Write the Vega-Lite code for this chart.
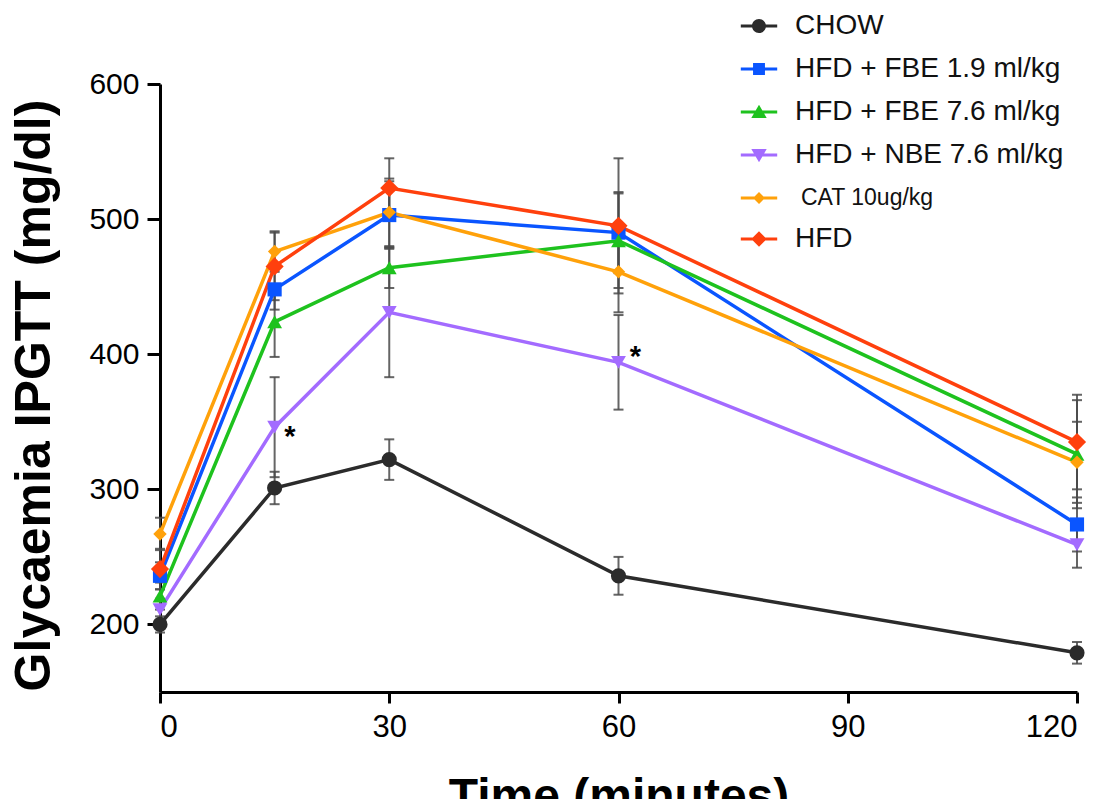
{
  "$schema": "https://vega.github.io/schema/vega-lite/v6.json",
  "autosize": "none",
  "width": 917,
  "height": 608,
  "padding": {"left": 160, "top": 84, "right": 33, "bottom": 107},
  "background": "white",
  "config": {"view": {"stroke": null}, "font": "Liberation Sans"},
  "datasets": {
    "glu": [
      {"series": "CHOW", "time": 0, "value": 200, "sem": 6},
      {"series": "CHOW", "time": 15, "value": 301, "sem": 12},
      {"series": "CHOW", "time": 30, "value": 322, "sem": 15},
      {"series": "CHOW", "time": 60, "value": 236, "sem": 14},
      {"series": "CHOW", "time": 120, "value": 179, "sem": 8},
      {"series": "HFD + FBE 1.9 ml/kg", "time": 0, "value": 236, "sem": 10},
      {"series": "HFD + FBE 1.9 ml/kg", "time": 15, "value": 448, "sem": 15},
      {"series": "HFD + FBE 1.9 ml/kg", "time": 30, "value": 503, "sem": 25},
      {"series": "HFD + FBE 1.9 ml/kg", "time": 60, "value": 490, "sem": 30},
      {"series": "HFD + FBE 1.9 ml/kg", "time": 120, "value": 274, "sem": 20},
      {"series": "HFD + FBE 7.6 ml/kg", "time": 0, "value": 221, "sem": 10},
      {"series": "HFD + FBE 7.6 ml/kg", "time": 15, "value": 424, "sem": 26},
      {"series": "HFD + FBE 7.6 ml/kg", "time": 30, "value": 464, "sem": 15},
      {"series": "HFD + FBE 7.6 ml/kg", "time": 60, "value": 484, "sem": 35},
      {"series": "HFD + FBE 7.6 ml/kg", "time": 120, "value": 326, "sem": 40},
      {"series": "HFD + NBE 7.6 ml/kg", "time": 0, "value": 211, "sem": 8},
      {"series": "HFD + NBE 7.6 ml/kg", "time": 15, "value": 346, "sem": 37},
      {"series": "HFD + NBE 7.6 ml/kg", "time": 30, "value": 431, "sem": 48},
      {"series": "HFD + NBE 7.6 ml/kg", "time": 60, "value": 394, "sem": 35},
      {"series": "HFD + NBE 7.6 ml/kg", "time": 120, "value": 259, "sem": 17},
      {"series": "CAT 10ug/kg", "time": 0, "value": 267, "sem": 12},
      {"series": "CAT 10ug/kg", "time": 15, "value": 476, "sem": 15},
      {"series": "CAT 10ug/kg", "time": 30, "value": 505, "sem": 25},
      {"series": "CAT 10ug/kg", "time": 60, "value": 461, "sem": 30},
      {"series": "CAT 10ug/kg", "time": 120, "value": 320, "sem": 30},
      {"series": "HFD", "time": 0, "value": 241, "sem": 15},
      {"series": "HFD", "time": 15, "value": 465, "sem": 25},
      {"series": "HFD", "time": 30, "value": 523, "sem": 22},
      {"series": "HFD", "time": 60, "value": 495, "sem": 50},
      {"series": "HFD", "time": 120, "value": 335, "sem": 35}
    ],
    "stars": [
      {"time": 17, "value": 332, "label": "*"},
      {"time": 62.2, "value": 391, "label": "*"}
    ]
  },
  "encoding": {
    "x": {
      "field": "time", "type": "quantitative",
      "scale": {"domain": [0, 120], "nice": false, "zero": false},
      "axis": {
        "values": [0, 30, 60, 90, 120], "grid": false,
        "domainColor": "black", "domainWidth": 3, "tickColor": "black", "tickWidth": 3, "tickSize": 11,
        "labelFont": "Liberation Sans", "labelFontSize": 31, "labelColor": "black", "labelPadding": 9,
        "title": "Time (minutes)", "titleFont": "Liberation Sans", "titleFontSize": 48, "titleFontWeight": "bold",
        "titleColor": "black", "titleX": 458.5, "titleY": 119, "titleBaseline": "alphabetic", "titleAlign": "center"
      }
    },
    "y": {
      "field": "value", "type": "quantitative",
      "scale": {"domain": [150, 600], "nice": false, "zero": false},
      "axis": {
        "values": [200, 300, 400, 500, 600], "grid": false,
        "domainColor": "black", "domainWidth": 3, "tickColor": "black", "tickWidth": 3, "tickSize": 13,
        "labelFont": "Liberation Sans", "labelFontSize": 30, "labelColor": "black", "labelPadding": 8,
        "title": "Glycaemia IPGTT (mg/dl)", "titleFont": "Liberation Sans", "titleFontSize": 50, "titleFontWeight": "bold",
        "titleColor": "black", "titleX": -111, "titleY": 311, "titleBaseline": "alphabetic", "titleAlign": "center", "titleAngle": -90
      }
    }
  },
  "layer": [
    {
      "data": {"name": "glu"},
      "mark": {"type": "errorbar", "ticks": {"size": 10, "color": "#4a4a4a"}, "color": "#4a4a4a", "thickness": 2, "opacity": 0.85},
      "encoding": {
        "yError": {"field": "sem"},
        "detail": {"field": "series", "type": "nominal"}
      }
    },
    {
      "data": {"name": "glu"},
      "mark": {"type": "line", "strokeWidth": 3.5},
      "encoding": {
        "color": {
          "field": "series", "type": "nominal",
          "scale": {
            "domain": ["CHOW", "HFD + FBE 1.9 ml/kg", "HFD + FBE 7.6 ml/kg", "HFD + NBE 7.6 ml/kg", "CAT 10ug/kg", "HFD"],
            "range": ["#2b2b2b", "#0a55ff", "#1ec21e", "#a36bff", "#ffa10a", "#ff400d"]
          },
          "legend": {
            "orient": "none", "legendX": 585, "legendY": -72, "title": null, "padding": 0,
            "symbolSize": 196, "rowPadding": 15, "labelOffset": 22,
            "labelFont": "Liberation Sans", "labelFontSize": 28, "labelColor": "#111", "labelLimit": 400,
            "encode": {
              "symbols": {
                "update": {
                  "shape": {"signal": "datum.value === 'CHOW' ? 'M-2.6,-0.22H2.6V0.22H-2.6ZM-1,0A1,1,0,1,1,1,0A1,1,0,1,1,-1,0Z' : datum.value === 'HFD + FBE 1.9 ml/kg' ? 'M-2.6,-0.22H2.6V0.22H-2.6ZM-0.85,-0.85H0.85V0.85H-0.85Z' : datum.value === 'HFD + FBE 7.6 ml/kg' ? 'M-2.6,-0.22H2.6V0.22H-2.6ZM0,-1.05L1.1,0.85H-1.1Z' : datum.value === 'HFD + NBE 7.6 ml/kg' ? 'M-2.6,-0.22H2.6V0.22H-2.6ZM0,1.05L-1.1,-0.85H1.1Z' : datum.value === 'CAT 10ug/kg' ? 'M-2.6,-0.22H2.6V0.22H-2.6ZM0,-0.85L0.85,0L0,0.85L-0.85,0Z' : 'M-2.6,-0.22H2.6V0.22H-2.6ZM0,-1.1L1.1,0L0,1.1L-1.1,0Z'"},
                  "fill": {"scale": "color", "field": "value"},
                  "stroke": {"value": "transparent"},
                  "strokeWidth": {"value": 0},
                  "opacity": {"value": 1}
                }
              },
              "labels": {
                "update": {
                  "fontSize": {"signal": "datum.value === 'CAT 10ug/kg' ? 23 : 28"},
                  "dx": {"signal": "datum.value === 'CAT 10ug/kg' ? 6 : 0"}
                }
              }
            }
          }
        },
        "order": {"field": "time", "type": "quantitative"}
      }
    },
    {
      "data": {"name": "glu"},
      "transform": [{"filter": "datum.series === 'CHOW'"}],
      "mark": {"type": "point", "shape": "circle", "size": 230, "filled": true, "opacity": 1, "strokeWidth": 0},
      "encoding": {"color": {"field": "series", "type": "nominal"}}
    },
    {
      "data": {"name": "glu"},
      "transform": [{"filter": "datum.series === 'HFD + FBE 1.9 ml/kg'"}],
      "mark": {"type": "point", "shape": "square", "size": 200, "filled": true, "opacity": 1, "strokeWidth": 0},
      "encoding": {"color": {"field": "series", "type": "nominal"}}
    },
    {
      "data": {"name": "glu"},
      "transform": [{"filter": "datum.series === 'HFD + FBE 7.6 ml/kg'"}],
      "mark": {"type": "point", "shape": "triangle-up", "size": 220, "filled": true, "opacity": 1, "strokeWidth": 0},
      "encoding": {"color": {"field": "series", "type": "nominal"}}
    },
    {
      "data": {"name": "glu"},
      "transform": [{"filter": "datum.series === 'HFD + NBE 7.6 ml/kg'"}],
      "mark": {"type": "point", "shape": "triangle-down", "size": 220, "filled": true, "opacity": 1, "strokeWidth": 0},
      "encoding": {"color": {"field": "series", "type": "nominal"}}
    },
    {
      "data": {"name": "glu"},
      "transform": [{"filter": "datum.series === 'CAT 10ug/kg'"}],
      "mark": {"type": "point", "shape": "diamond", "size": 180, "filled": true, "opacity": 1, "strokeWidth": 0},
      "encoding": {"color": {"field": "series", "type": "nominal"}}
    },
    {
      "data": {"name": "glu"},
      "transform": [{"filter": "datum.series === 'HFD'"}],
      "mark": {"type": "point", "shape": "diamond", "size": 330, "filled": true, "opacity": 1, "strokeWidth": 0},
      "encoding": {"color": {"field": "series", "type": "nominal"}}
    },
    {
      "data": {"name": "stars"},
      "mark": {"type": "text", "font": "Liberation Sans", "fontWeight": "bold", "fontSize": 29, "color": "black", "align": "center", "baseline": "alphabetic"},
      "encoding": {
        "text": {"field": "label", "type": "nominal"}
      }
    }
  ]
}
